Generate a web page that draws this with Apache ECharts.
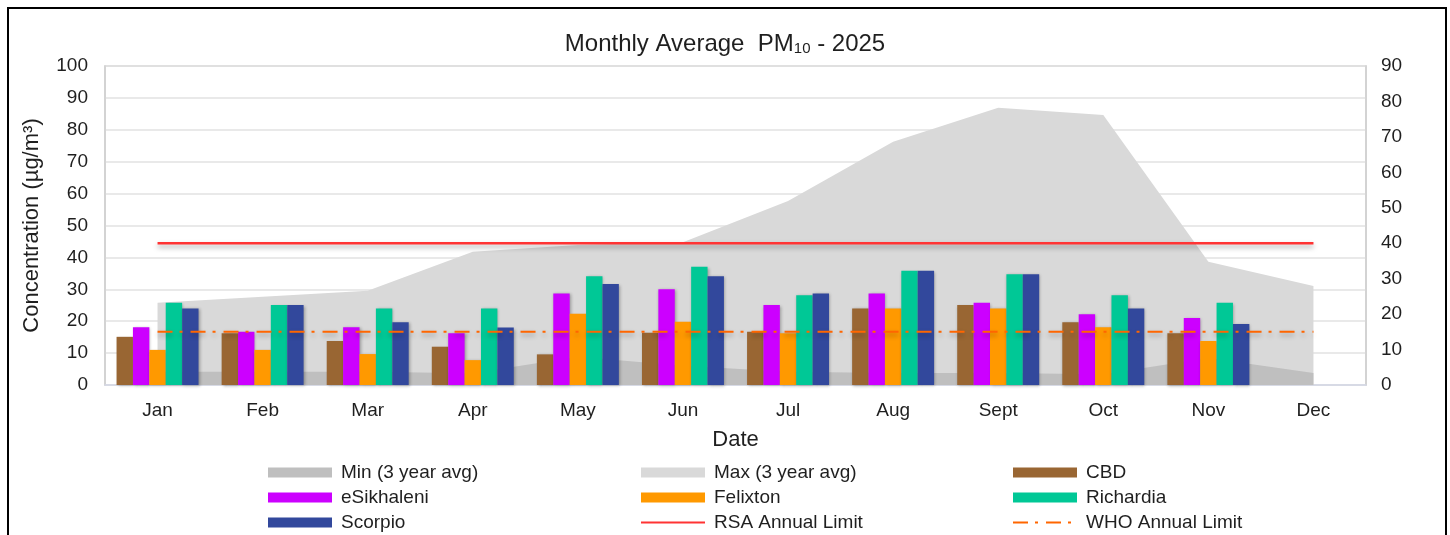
<!DOCTYPE html>
<html>
<head>
<meta charset="utf-8">
<script src="https://cdn.jsdelivr.net/npm/echarts@6/dist/echarts.min.js"></script>
<style>
  html, body { margin: 0; padding: 0; background: #fff; }
  #chart { width: 1450px; height: 535px; }
</style>
</head>
<body>
<div id="chart"></div>
<script>
var months = ['Jan', 'Feb', 'Mar', 'Apr', 'May', 'Jun', 'Jul', 'Aug', 'Sept', 'Oct', 'Nov', 'Dec']

// bars, left axis (µg/m³)
var cbd = [15.1, 16.2, 13.8, 12.0, 9.6, 16.4, 16.7, 24.0, 25.1, 19.7, 16.2, null]
var esikhaleni = [18.1, 16.7, 18.1, 16.2, 28.7, 30.0, 25.1, 28.7, 25.8, 22.2, 21.0, null]
var felixton = [11.0, 11.0, 9.7, 7.8, 22.3, 19.8, 16.2, 24.0, 24.0, 18.1, 13.8, null]
var richardia = [25.8, 25.1, 24.0, 24.0, 34.1, 37.1, 28.1, 35.8, 34.7, 28.1, 25.8, null]
var scorpio = [24.0, 25.1, 19.7, 18.0, 31.7, 34.1, 28.7, 35.8, 34.7, 24.0, 19.1, null]

// areas + limits, right axis
var min3yr = [3.75, 3.75, 3.75, 3.3, 8.0, 5.4, 3.75, 3.4, 3.4, 3.0, 7.6, 3.4]
var max3yr = [23.2, 24.9, 26.6, 37.6, 39.5, 40.3, 51.9, 68.6, 78.2, 76.2, 34.8, 27.9]
var rsaLimit = [40, 40, 40, 40, 40, 40, 40, 40, 40, 40, 40, 40]
var whoLimit = [15, 15, 15, 15, 15, 15, 15, 15, 15, 15, 15, 15]

var font = 'Liberation Sans, Arial, sans-serif'
var txt = '#1f1f1f'
var barShadow = { shadowBlur: 3, shadowColor: 'rgba(0,0,0,0.3)', shadowOffsetX: 1, shadowOffsetY: 1 }

function bar(name, data, color) {
  return {
    name: name,
    type: 'bar',
    data: data,
    yAxisIndex: 0,
    barGap: '0%',
    barCategoryGap: '22%',
    itemStyle: Object.assign({ color: color }, barShadow)
  }
}

function legendCol(left, items) {
  return {
    orient: 'vertical',
    left: left,
    top: 458,
    height: 90,
    itemWidth: 64,
    itemHeight: 10,
    itemGap: 6,
    textStyle: { fontFamily: font, fontSize: 19, lineHeight: 19, color: txt, padding: [0, 0, 0, 4] },
    data: items
  }
}

var dom = document.getElementById('chart')
var myChart = echarts.init(dom)
var option = {
  animation: false,
  backgroundColor: '#fff',
  title: {
    text: '{a|Monthly Average  PM}{s|10}{a| - 2025}',
    left: 'center',
    top: 27,
    textStyle: {
      rich: {
        a: { fontFamily: font, fontSize: 24, fontWeight: 'normal', color: txt },
        s: { fontFamily: font, fontSize: 15, fontWeight: 'normal', color: txt, verticalAlign: 'bottom' }
      }
    }
  },
  graphic: [{
    type: 'rect',
    shape: { x: 8, y: 8, width: 1438, height: 545 },
    style: { fill: 'none', stroke: '#000', lineWidth: 2 },
    silent: true
  }],
  legend: [
    legendCol(263, [
      { name: 'Min (3 year avg)', icon: 'rect' },
      { name: 'eSikhaleni', icon: 'rect' },
      { name: 'Scorpio', icon: 'rect' }
    ]),
    legendCol(635, [
      { name: 'Max (3 year avg)', icon: 'rect' },
      { name: 'Felixton', icon: 'rect' },
      { name: 'RSA Annual Limit', itemStyle: { opacity: 0 } }
    ]),
    legendCol(1007, [
      { name: 'CBD', icon: 'rect' },
      { name: 'Richardia', icon: 'rect' },
      { name: 'WHO Annual Limit', itemStyle: { opacity: 0 } }
    ])
  ],
  grid: {
    left: 105,
    right: 84,
    top: 66,
    bottom: 150,
    show: true,
    borderColor: '#d0d0d0',
    borderWidth: 1.5
  },
  xAxis: {
    type: 'category',
    data: months,
    name: 'Date',
    nameLocation: 'middle',
    nameGap: 44,
    nameTextStyle: { fontFamily: font, fontSize: 22, color: txt },
    axisTick: { show: false },
    axisLine: { lineStyle: { color: '#d4d7e6', width: 1.5 } },
    axisLabel: { fontFamily: font, fontSize: 19, color: txt, margin: 16 }
  },
  yAxis: [
    {
      type: 'value',
      min: 0,
      max: 100,
      interval: 10,
      name: 'Concentration (µg/m³)',
      nameLocation: 'middle',
      nameGap: 62,
      nameTextStyle: { fontFamily: font, fontSize: 22, color: txt },
      axisLine: { show: true, lineStyle: { color: '#d0d0d0', width: 1.5 } },
      axisLabel: { fontFamily: font, fontSize: 19, color: txt, margin: 17 },
      splitLine: { lineStyle: { color: '#e2e2e2', width: 1.5 } }
    },
    {
      type: 'value',
      position: 'right',
      min: 0,
      max: 90,
      interval: 10,
      axisLine: { show: true, lineStyle: { color: '#d0d0d0', width: 1.5 } },
      axisLabel: { fontFamily: font, fontSize: 19, color: txt, margin: 15 },
      splitLine: { show: false }
    }
  ],
  series: [
    {
      name: 'Max (3 year avg)',
      type: 'line',
      yAxisIndex: 1,
      data: max3yr,
      symbol: 'none',
      lineStyle: { width: 0 },
      itemStyle: { color: '#d9d9d9' },
      areaStyle: { color: '#d9d9d9', opacity: 1 },
      z: 1
    },
    {
      name: 'Min (3 year avg)',
      type: 'line',
      yAxisIndex: 1,
      data: min3yr,
      symbol: 'none',
      lineStyle: { width: 0 },
      itemStyle: { color: '#bfbfbf' },
      areaStyle: { color: '#bfbfbf', opacity: 1 },
      z: 1
    },
    bar('CBD', cbd, '#996633'),
    bar('eSikhaleni', esikhaleni, '#cc00ff'),
    bar('Felixton', felixton, '#ff9900'),
    bar('Richardia', richardia, '#00c896'),
    bar('Scorpio', scorpio, '#32489c'),
    {
      name: 'RSA Annual Limit',
      type: 'line',
      yAxisIndex: 1,
      data: rsaLimit,
      symbol: 'none',
      itemStyle: { color: '#ff3333' },
      lineStyle: {
        color: '#ff3333', width: 2.5,
        shadowBlur: 5, shadowColor: 'rgba(0,0,0,0.35)', shadowOffsetY: 3
      },
      z: 3
    },
    {
      name: 'WHO Annual Limit',
      type: 'line',
      yAxisIndex: 1,
      data: whoLimit,
      symbol: 'none',
      itemStyle: { color: '#ff6600' },
      lineStyle: {
        color: '#ff6600', width: 2, type: [15, 7, 3, 8],
        shadowBlur: 5, shadowColor: 'rgba(0,0,0,0.3)', shadowOffsetY: 3
      },
      z: 3
    }
  ]
}
myChart.setOption(option)
</script>
</body>
</html>
